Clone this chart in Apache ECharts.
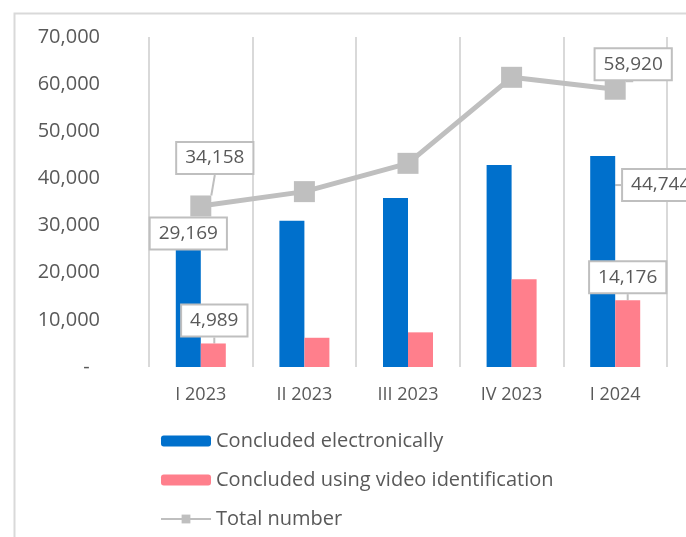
<!DOCTYPE html>
<html>
<head>
<meta charset="utf-8">
<script src="https://cdn.jsdelivr.net/npm/echarts@6/dist/echarts.min.js"></script>
<style>
  html, body { margin: 0; padding: 0; background: #fff; }
  #chart { width: 686px; height: 537px; }
</style>
</head>
<body>
<div id="chart"></div>
<script>
var categories = ['I 2023', 'II 2023', 'III 2023', 'IV 2023', 'I 2024'];
var electronic = [29169, 31000, 35850, 42850, 44744];
var video = [4989, 6200, 7350, 18600, 14176];
var total = [34158, 37200, 43200, 61450, 58920];
var yTicks = [0, 10000, 20000, 30000, 40000, 50000, 60000, 70000];

var grey = '#595959';
var font = 'Open Sans';

// callout offsets for the labelled points (first and last quarter)
var offElectronic = { 0: [0, 4], 4: [58, 29] };
var offVideo = { 0: [1, -23], 4: [0, -23] };
var offTotal = { 0: [14, -48], 4: [18, -25] };

function fmt(v) { return v.toLocaleString('en-US'); }

var boxLabel = {
    show: true,
    position: ['50%', 0],
    align: 'center',
    verticalAlign: 'middle',
    formatter: function (p) { return fmt(p.value); },
    color: grey,
    fontFamily: font,
    fontSize: 19,
    backgroundColor: '#fff',
    borderColor: '#BFBFBF',
    borderWidth: 2,
    padding: [6, 8, 5, 8]
};

function items(values, showIdx) {
    return values.map(function (v, i) {
        return { value: v, label: { show: showIdx.indexOf(i) >= 0 } };
    });
}

function layoutFrom(offs) {
    return function (p) {
        var o = offs[p.dataIndex];
        return o ? { dx: o[0], dy: o[1] } : {};
    };
}

var chart = echarts.init(document.getElementById('chart'));

var option = {
    backgroundColor: '#fff',
    animation: false,
    textStyle: { fontFamily: font },
    graphic: [{
        type: 'rect',
        left: 12, top: 11,
        shape: { width: 700, height: 560 },
        style: { fill: 'none', stroke: '#D9D9D9', lineWidth: 2 }
    }],
    grid: { left: 149, right: 19, top: 37, bottom: 170 },
    legend: {
        orient: 'vertical',
        left: 155,
        top: 426,
        itemWidth: 50,
        itemHeight: 11,
        itemGap: 19,
        textStyle: { color: grey, fontSize: 20, fontFamily: font },
        data: ['Concluded electronically', 'Concluded using video identification', 'Total number']
    },
    xAxis: {
        type: 'category',
        data: categories,
        axisLine: { show: false },
        axisTick: { show: false },
        axisLabel: { color: grey, fontSize: 18, margin: 19, fontFamily: font },
        splitLine: { show: true, lineStyle: { color: '#D9D9D9', width: 2 } }
    },
    yAxis: {
        type: 'value',
        min: 0,
        max: 70000,
        interval: 10000,
        axisLine: { show: false },
        axisTick: { show: false },
        splitLine: { show: false },
        axisLabel: {
            color: grey, fontSize: 20, margin: 49, fontFamily: font,
            formatter: function (v) { return yTicks.indexOf(v) === 0 ? '-  ' : fmt(v); }
        }
    },
    series: [
        {
            name: 'Concluded electronically',
            type: 'bar',
            barWidth: 25,
            barGap: '0%',
            itemStyle: { color: '#0070CC' },
            label: boxLabel,
            labelLayout: layoutFrom(offElectronic),
            labelLine: { show: true, lineStyle: { color: '#BFBFBF', width: 2 } },
            data: items(electronic, [0, 4]),
            z: 2
        },
        {
            name: 'Concluded using video identification',
            type: 'bar',
            barWidth: 25,
            itemStyle: { color: '#FF7F8C' },
            label: boxLabel,
            labelLayout: layoutFrom(offVideo),
            labelLine: { show: true, lineStyle: { color: '#BFBFBF', width: 2 } },
            data: items(video, [0, 4]),
            z: 2
        },
        {
            name: 'Total number',
            type: 'line',
            symbol: 'rect',
            symbolSize: 21,
            itemStyle: { color: '#BFBFBF' },
            lineStyle: { color: '#BFBFBF', width: 5 },
            label: Object.assign({}, boxLabel, { position: ['50%', '50%'] }),
            labelLayout: layoutFrom(offTotal),
            labelLine: { show: true, lineStyle: { color: '#BFBFBF', width: 2 } },
            data: items(total, [0, 4]),
            z: 3
        }
    ]
};

chart.setOption(option);
</script>
</body>
</html>
